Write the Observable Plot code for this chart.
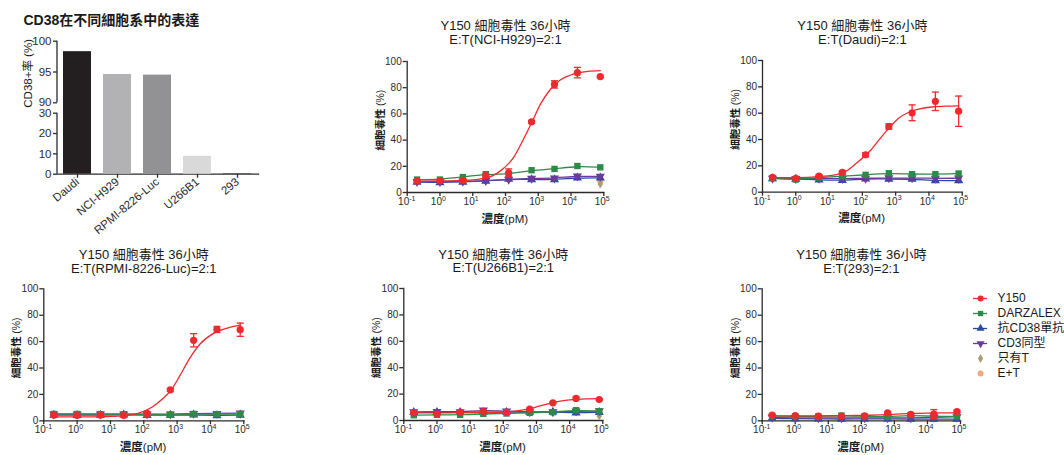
<!DOCTYPE html>
<html><head><meta charset="utf-8">
<script src="https://cdn.jsdelivr.net/npm/d3@7"></script>
<script src="https://cdn.jsdelivr.net/npm/@observablehq/plot@0.6"></script>
<style>
body{margin:0;background:#fff;}
#root{position:relative;width:1064px;height:455px;overflow:hidden;background:#fff;}
#root > div{position:absolute;}
#root svg{overflow:visible;}
</style></head><body><div id="root"></div>
<script>
// ---------- bar chart data ----------
const cellLines = ["Daudi","NCI-H929","RPMI-8226-Luc","U266B1","293"];
const cd38Positive = [98.3, 94.6, 94.5, 8.8, 0.3];
const barColors = ["#231f20","#b2b2b4","#929295","#d9d9da","#4a4a4c"];
const barYTicks = [0,10,20,30,90,95,100];
const barAxisSegments = [[0,30],[90,100]];

// ---------- dose-response shared ----------
const conc = [0.2, 1, 5, 25, 125, 625, 3125, 15625, 78125];
const fitConc = [0.2, 1, 5, 25, 70, 180, 360, 650, 1200, 2400, 4800, 12000, 32000, 78125];
const controlConc = [78125];
const xTicks = [0.1, 1, 10, 100, 1000, 10000, 100000];
const xTickExp = ["-1","0","1","2","3","4","5"];
const yTicks = [0, 20, 40, 60, 80, 100];
const seriesNames = ["Y150","DARZALEX","抗CD38單抗","CD3同型","只有T","E+T"];
const seriesColors = ["#ee2a2e","#2e8a48","#2a4aa0","#6c3a9c","#a89c70","#f0a97e"];
const seriesSymbols = ["circle","square","triangle","triangle","diamond","circle"];
const titleLine1 = "Y150 細胞毒性 36小時";
const targets = ["NCI-H929","Daudi","RPMI-8226-Luc","U266B1","293"];

// NCI-H929
const h929_Y150 = [8.7, 8.9, 9.2, 13.0, 15.0, 54.0, 82.5, 91.5, 88.5];
const h929_Y150Err = [1.0, 1.0, 1.0, 1.2, 3.0, 1.0, 2.8, 4.0, 0.8];
const h929_Y150Fit = [8.7, 8.8, 9.2, 11.0, 16.5, 27.0, 41.0, 54.0, 68.0, 79.0, 86.0, 90.5, 92.4, 93.0];
const h929_DARZALEX = [9.9, 9.9, 11.8, 14.0, 13.8, 17.0, 18.0, 20.2, 19.2];
const h929_antiCD38 = [8.0, 7.6, 8.0, 8.7, 10.2, 9.9, 9.9, 11.2, 11.2];
const h929_CD3iso = [8.3, 8.3, 8.5, 9.0, 10.0, 10.8, 11.0, 12.5, 12.3];
const h929_Tonly = [6.5];
const h929_ET = [9.0];

// Daudi
const daudi_Y150 = [11.2, 10.6, 12.2, 15.0, 28.4, 49.9, 60.3, 69.0, 61.5];
const daudi_Y150Err = [1.0, 1.0, 1.0, 1.2, 1.5, 2.0, 6.0, 7.0, 11.5];
const daudi_Y150Fit = [11.0, 11.0, 11.8, 14.5, 22.5, 32.0, 41.5, 49.0, 56.0, 60.5, 63.0, 64.7, 65.3, 65.6];
const daudi_DARZALEX = [10.6, 9.6, 11.1, 12.2, 13.2, 14.4, 13.7, 13.7, 14.2];
const daudi_antiCD38 = [10.3, 10.0, 9.4, 8.9, 10.2, 10.0, 10.0, 8.8, 8.8];
const daudi_CD3iso = [10.5, 10.3, 10.5, 10.3, 10.5, 10.8, 10.8, 10.5, 10.6];
const daudi_Tonly = [9.5];
const daudi_ET = [10.5];

// RPMI-8226-Luc
const rpmi_Y150 = [4.3, 4.0, 4.3, 4.0, 5.6, 23.5, 61.0, 69.2, 69.0];
const rpmi_Y150Err = [0.5, 0.5, 0.5, 0.5, 0.6, 1.0, 5.0, 2.3, 5.0];
const rpmi_Y150Fit = [3.0, 3.0, 3.1, 3.8, 5.9, 10.5, 16.5, 23.0, 34.0, 47.5, 58.0, 66.0, 70.3, 72.5];
const rpmi_DARZALEX = [5.2, 5.2, 5.0, 5.0, 4.8, 4.6, 5.2, 5.0, 5.0];
const rpmi_antiCD38 = [4.3, 4.2, 4.3, 4.5, 4.2, 4.3, 4.5, 4.0, 4.3];
const rpmi_CD3iso = [5.0, 5.0, 5.0, 5.0, 5.0, 5.0, 5.5, 5.5, 5.8];
const rpmi_Tonly = [5.0];
const rpmi_ET = [5.5];

// U266B1
const u266_Y150 = [5.8, 4.8, 6.3, 6.8, 6.3, 8.6, 13.4, 16.7, 15.9];
const u266_Y150Err = [0.5, 0.5, 0.5, 0.5, 0.5, 0.5, 0.6, 1.0, 0.6];
const u266_Y150Fit = [5.8, 5.8, 5.9, 6.0, 6.2, 6.8, 7.8, 9.0, 10.8, 12.8, 14.5, 15.8, 16.4, 16.6];
const u266_DARZALEX = [4.0, 4.3, 4.3, 5.0, 5.3, 5.8, 6.3, 7.8, 7.0];
const u266_antiCD38 = [6.2, 6.2, 6.2, 6.3, 6.3, 6.3, 6.5, 5.8, 6.2];
const u266_CD3iso = [6.5, 6.8, 6.5, 7.8, 7.0, 6.5, 6.5, 7.0, 7.2];
const u266_Tonly = [3.5];
const u266_ET = [6.0];

// 293
const h293_Y150 = [4.3, 4.0, 3.5, 3.5, 3.8, 6.0, 4.8, 5.0, 7.0];
const h293_Y150Err = [0.5, 0.5, 0.5, 0.5, 0.5, 0.8, 0.8, 3.5, 1.0];
const h293_Y150Fit = [3.8, 3.8, 3.8, 3.9, 4.0, 4.2, 4.5, 4.8, 5.1, 5.4, 5.6, 5.8, 6.0, 6.1];
const h293_DARZALEX = [3.5, 3.3, 3.3, 4.0, 3.3, 3.0, 4.3, 3.3, 3.3];
const h293_antiCD38 = [2.0, 1.5, 1.5, 1.3, 1.5, 1.5, 1.3, 1.3, 1.3];
const h293_CD3iso = [2.5, 2.2, 2.2, 2.2, 2.2, 2.2, 2.2, 2.5, 3.0];
const h293_Tonly = [2.0];
const h293_ET = [3.0];

// ---------- rendering ----------
const FONT = "'Liberation Sans', Arial, 'Noto Sans CJK TC', sans-serif";
const root = document.getElementById("root");
function place(node, left, top) {
  const d = document.createElement("div");
  d.style.left = left + "px"; d.style.top = top + "px";
  d.appendChild(node); root.appendChild(d);
}
const baseStyle = {fontFamily: FONT, fontSize: "10px", color: "#2b2b2b", background: "transparent", overflow: "visible", strokeWidth: "1.3px"};

// Bar chart
(function () {
  const rows = cellLines.map((c, i) => ({line: c, value: cd38Positive[i]}));
  const W = 270, H = 240;
  const chart = Plot.plot({
    width: W, height: H, marginLeft: 57, marginRight: 12, marginTop: 40.7, marginBottom: H - 173.7,
    style: {...baseStyle, fontSize: "11.5px"},
    x: {type: "band", domain: cellLines, paddingInner: 0.29, paddingOuter: 0.15, tickRotate: -40, tickSize: 4, tickPadding: 2, line: true, label: null},
    y: {type: "linear", domain: [0, 30, 90, 100], range: [173.7, 112.7, 102.3, 40.7], ticks: barYTicks, tickSize: 4, tickPadding: 2, label: null},
    color: {domain: cellLines, range: barColors},
    marks: [
      Plot.barY(rows, {x: "line", y1: 0, y2: "value", fill: "line"}),
      (index, scales, values, dims) => {
        const g = d3.create("svg:g").attr("stroke", "#2b2b2b").attr("stroke-width", 1.3).attr("fill", "none");
        for (const [a, b] of barAxisSegments) {
          g.append("line").attr("x1", dims.marginLeft).attr("x2", dims.marginLeft).attr("y1", scales.y(a)).attr("y2", scales.y(b));
        }
        return g.node();
      },
      Plot.text(["CD38+率 (%)"], {frameAnchor: "left", rotate: -90, dx: -29, fontSize: 11.5, fill: "#1a1a1a"}),
      Plot.text(["CD38在不同細胞系中的表達"], {frameAnchor: "top-left", textAnchor: "start", dx: -34, dy: -26, fontSize: 14, fontWeight: "bold", fill: "#1a1a1a"})
    ]
  });
  place(chart, 0, 0);
})();

const capSymbol = {draw(ctx, size) { const w = Math.sqrt(size) / 1.6; ctx.moveTo(-w, 0); ctx.lineTo(w, 0); }};

function dosePanel(target, d, L) {
  const pts = (name, vals, xs) => vals.map((v, i) => ({series: name, conc: xs[i], value: v}));
  const y150 = pts("Y150", d.y150, conc);
  const dara = pts("DARZALEX", d.dara, conc);
  const anti = pts("抗CD38單抗", d.anti, conc);
  const iso = pts("CD3同型", d.iso, conc);
  const fit = pts("Y150", d.fit, fitConc);
  const tonly = pts("只有T", d.tonly, controlConc);
  const et = pts("E+T", d.et, controlConc);
  const err = d.y150.map((v, i) => ({conc: conc[i], lo: v - d.err[i], hi: v + d.err[i]}));
  const col = (n) => seriesColors[seriesNames.indexOf(n)];
  const line = (data, n, curve) => Plot.line(data, {x: "conc", y: "value", stroke: col(n), strokeWidth: 1.3, curve});
  const dot = (data, n, opts = {}) => Plot.dot(data, {x: "conc", y: "value", fill: col(n), symbol: seriesSymbols[seriesNames.indexOf(n)], r: 3.6, ...opts});
  const chart = Plot.plot({
    width: L.W, height: L.H, marginLeft: L.ml, marginRight: L.mr, marginTop: L.mt, marginBottom: L.mb,
    style: baseStyle,
    x: {type: "log", domain: [0.1, 1e5], ticks: xTicks, tickFormat: () => "", tickSize: 4, line: true, label: null},
    y: {domain: [0, 100], ticks: yTicks, tickSize: 4, tickPadding: 1.5, line: true, label: null},
    marks: [
      dot(et, "E+T", {r: 3.2}),
      dot(tonly, "只有T", {r: 2.8}),
      line(anti, "抗CD38單抗", "basis"),
      dot(anti, "抗CD38單抗", {r: 3.4}),
      line(iso, "CD3同型", "basis"),
      dot(iso, "CD3同型", {r: 3.4, rotate: 180}),
      line(dara, "DARZALEX", "basis"),
      dot(dara, "DARZALEX"),
      line(fit, "Y150", "monotone-x"),
      Plot.ruleX(err, {x: "conc", y1: "lo", y2: "hi", stroke: col("Y150"), strokeWidth: 1.3}),
      Plot.dot(err, {x: "conc", y: "lo", symbol: capSymbol, stroke: col("Y150"), strokeWidth: 1.3, r: 3.2}),
      Plot.dot(err, {x: "conc", y: "hi", symbol: capSymbol, stroke: col("Y150"), strokeWidth: 1.3, r: 3.2}),
      dot(y150, "Y150"),
      Plot.text(xTicks, {x: (v) => v, text: () => "10", frameAnchor: "bottom", textAnchor: "end", dx: 2, dy: 12.5, fontSize: 10}),
      Plot.text(xTicks, {x: (v) => v, text: (v, i) => xTickExp[i], frameAnchor: "bottom", textAnchor: "start", dx: 2, dy: 8, fontSize: 7}),
      Plot.text([titleLine1 + "\nE:T(" + target + ")=2:1"], {frameAnchor: "top", dy: L.tdy, fontSize: 13, lineHeight: 1.05, fill: "#1a1a1a"}),
      Plot.text(["細胞毒性"], {frameAnchor: "left", rotate: -90, textAnchor: "start", dx: -27, dy: 23.5, fontSize: 10.5, fontWeight: "bold", fill: "#1a1a1a"}),
      Plot.text(["(%)"], {frameAnchor: "left", rotate: -90, textAnchor: "start", dx: -27, dy: -21, fontSize: 10.5, fill: "#1a1a1a"}),
      Plot.text(["濃度"], {frameAnchor: "bottom", textAnchor: "end", dx: -1, dy: 30, fontSize: 11.5, fontWeight: "bold", fill: "#1a1a1a"}),
      Plot.text(["(pM)"], {frameAnchor: "bottom", textAnchor: "start", dx: -1, dy: 30, fontSize: 11.5, fill: "#1a1a1a"})
    ]
  });
  place(chart, L.left, L.top);
}

dosePanel(targets[0], {y150: h929_Y150, err: h929_Y150Err, fit: h929_Y150Fit, dara: h929_DARZALEX, anti: h929_antiCD38, iso: h929_CD3iso, tonly: h929_Tonly, et: h929_ET},
  {left: 330, top: 0, W: 290, H: 230, ml: 76.7, mr: 16.7, mt: 61, mb: 38, tdy: -41});
dosePanel(targets[1], {y150: daudi_Y150, err: daudi_Y150Err, fit: daudi_Y150Fit, dara: daudi_DARZALEX, anti: daudi_antiCD38, iso: daudi_CD3iso, tonly: daudi_Tonly, et: daudi_ET},
  {left: 690, top: 0, W: 290, H: 230, ml: 72, mr: 18.3, mt: 60, mb: 38.3, tdy: -40});
dosePanel(targets[2], {y150: rpmi_Y150, err: rpmi_Y150Err, fit: rpmi_Y150Fit, dara: rpmi_DARZALEX, anti: rpmi_antiCD38, iso: rpmi_CD3iso, tonly: rpmi_Tonly, et: rpmi_ET},
  {left: 0, top: 240, W: 270, H: 215, ml: 43.3, mr: 26.7, mt: 48.3, mb: 34.7, tdy: -39.5});
dosePanel(targets[3], {y150: u266_Y150, err: u266_Y150Err, fit: u266_Y150Fit, dara: u266_DARZALEX, anti: u266_antiCD38, iso: u266_CD3iso, tonly: u266_Tonly, et: u266_ET},
  {left: 360, top: 240, W: 270, H: 215, ml: 43.3, mr: 27.7, mt: 48, mb: 35, tdy: -39.5});
dosePanel(targets[4], {y150: h293_Y150, err: h293_Y150Err, fit: h293_Y150Fit, dara: h293_DARZALEX, anti: h293_antiCD38, iso: h293_CD3iso, tonly: h293_Tonly, et: h293_ET},
  {left: 700, top: 240, W: 270, H: 215, ml: 61.7, mr: 10, mt: 48.3, mb: 34.7, tdy: -39.5});

// Legend
(function () {
  const lineSeries = seriesNames.slice(0, 4);
  const legend = Plot.plot({
    width: 99, height: 100, marginTop: 11.7, marginBottom: 11.3, marginLeft: 8, marginRight: 0,
    style: baseStyle,
    x: {domain: [0, 1], axis: null},
    y: {type: "point", domain: seriesNames, padding: 0, axis: null},
    color: {domain: seriesNames, range: seriesColors},
    symbol: {domain: seriesNames, range: seriesSymbols},
    marks: [
      Plot.ruleY(lineSeries, {y: (s) => s, x1: 0, x2: 0.155, stroke: (s) => s, strokeWidth: 1.3}),
      Plot.dot(seriesNames, {x: 0.0775, y: (s) => s, fill: (s) => s, symbol: (s) => s, r: (s) => (s === "只有T" ? 2.8 : 3.4), rotate: (s) => (s === "CD3同型" ? 180 : 0)}),
      Plot.text(seriesNames, {x: 0.264, y: (s) => s, text: (s) => s, textAnchor: "start", fontSize: 12, fill: "#1a1a1a"})
    ]
  });
  place(legend, 965, 285);
})();
</script>
</body></html>
